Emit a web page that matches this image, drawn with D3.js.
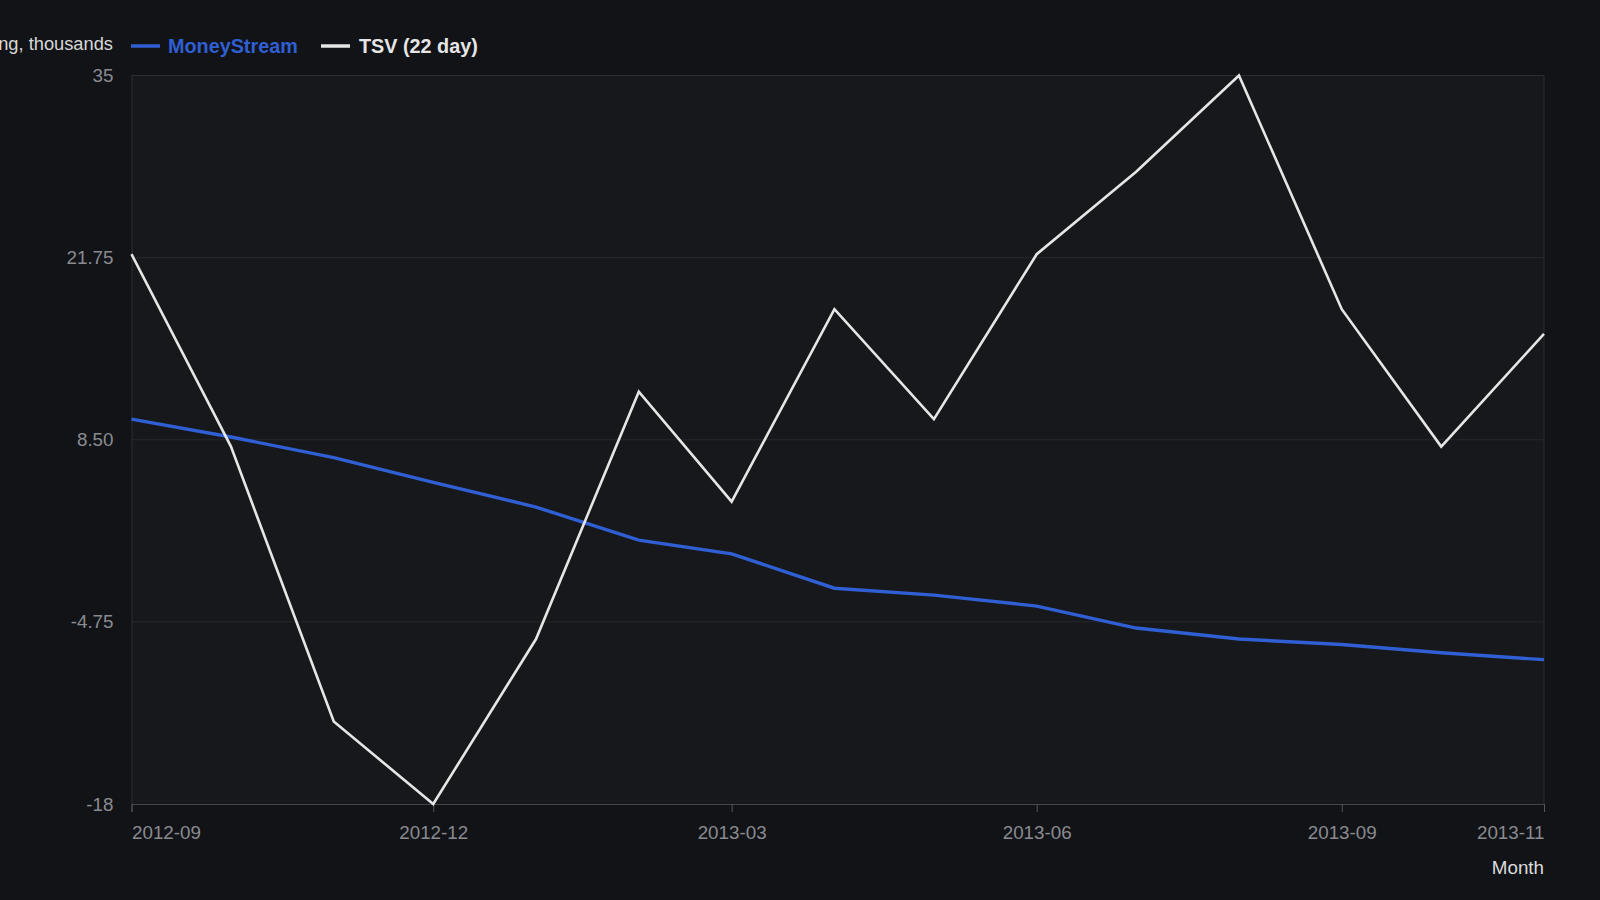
<!DOCTYPE html>
<html><head><meta charset="utf-8">
<script src="https://cdn.jsdelivr.net/npm/d3@7"></script>
<style>
html,body{margin:0;padding:0;background:#121317;}
svg{display:block;font-family:"Liberation Sans",Arial,sans-serif;}
</style></head>
<body><svg id="c" width="1600" height="900"></svg>
<script>
const months = ["2012-09","2012-10","2012-11","2012-12","2013-01","2013-02","2013-03","2013-04","2013-05","2013-06","2013-07","2013-08","2013-09","2013-10","2013-11"];
const moneyStream = [10.0,8.7,7.2,5.4,3.6,1.2,0.2,-2.3,-2.8,-3.6,-5.2,-6.0,-6.4,-7.0,-7.5];
const tsv22 = [22.0,8.0,-12.0,-18.0,-6.0,12.0,4.0,18.0,10.0,22.0,28.0,35.0,18.0,8.0,16.2];
const yTicks = [-18,-4.75,8.5,21.75,35];
const yTickLabels = ["-18","-4.75","8.50","21.75","35"];
const xTickLabels = ["2012-09","2012-12","2013-03","2013-06","2013-09","2013-11"];
const seriesNames = ["MoneyStream","TSV (22 day)"];
const seriesColors = ["#2f5fd3","#e6e6e6"];

const svg = d3.select("#c");
const W=1600,H=900, m={l:131.5,r:56,t:75.5,b:96};
const parse = d3.timeParse("%Y-%m");
const dates = months.map(parse);
const x = d3.scaleTime().domain(d3.extent(dates)).range([m.l,W-m.r]);
const y = d3.scaleLinear().domain([-18,35]).range([H-m.b,m.t]);

// plot background
svg.append("rect").attr("x",m.l).attr("y",m.t).attr("width",W-m.r-m.l).attr("height",H-m.b-m.t).attr("fill","#17181c");

// grid
svg.append("g").selectAll("line").data(yTicks.slice(1,-1)).join("line")
  .attr("x1",m.l).attr("x2",W-m.r).attr("y1",d=>y(d)).attr("y2",d=>y(d))
  .attr("stroke","#26272c").attr("stroke-width",1);
// frame top/right
svg.append("line").attr("x1",m.l).attr("x2",W-m.r).attr("y1",m.t).attr("y2",m.t).attr("stroke","#2c2d33");
svg.append("line").attr("x1",W-m.r).attr("x2",W-m.r).attr("y1",m.t).attr("y2",H-m.b).attr("stroke","#2c2d33");

// y axis
const ya = svg.append("g").attr("transform",`translate(${m.l},0)`)
  .call(d3.axisLeft(y).tickValues(yTicks).tickSize(0).tickPadding(18).tickFormat((d,i)=>yTickLabels[i]));
ya.select(".domain").attr("stroke","#2c2d33");
ya.selectAll("text").attr("fill","#8a8b90").attr("font-size",18.8).attr("font-family","Liberation Sans, Arial, sans-serif");

// x axis
const xa = svg.append("g").attr("transform",`translate(0,${H-m.b})`)
  .call(d3.axisBottom(x).tickValues(xTickLabels.map(parse)).tickSize(8).tickPadding(14).tickFormat(d3.timeFormat("%Y-%m")));
xa.select(".domain").attr("stroke","#44454b");
xa.selectAll(".tick line").attr("stroke","#55565c");
xa.selectAll("text").attr("fill","#8a8b90").attr("font-size",18.8).attr("font-family","Liberation Sans, Arial, sans-serif")
  .attr("text-anchor",(d,i,n)=> i===0?"start":(i===n.length-1?"end":"middle"));

svg.append("text").attr("x",W-m.r).attr("y",874).attr("text-anchor","end")
  .attr("fill","#dcdcdc").attr("font-size",18.8).text("Month");

// lines
const line = d3.line().x((d,i)=>x(dates[i])).y(d=>y(d));
[moneyStream,tsv22].forEach((s,k)=>{
  svg.append("path").datum(s).attr("d",line).attr("fill","none")
    .attr("stroke",seriesColors[k]).attr("stroke-width",k===0?3.4:2.6).attr("stroke-linejoin","miter");
});
// legend
svg.append("text").attr("x",113).attr("y",50).attr("text-anchor","end")
  .attr("fill","#d8d8d8").attr("font-size",18.3).text("Money flow reading, thousands");
const lg = [{x:131,tx:168},{x:321,tx:359}];
seriesNames.forEach((n,k)=>{
  svg.append("line").attr("x1",lg[k].x).attr("x2",lg[k].x+29).attr("y1",46).attr("y2",46)
    .attr("stroke",seriesColors[k]).attr("stroke-width",3.5);
  svg.append("text").attr("x",lg[k].tx).attr("y",52.5).attr("fill",seriesColors[k])
    .attr("font-size",19.8).attr("font-weight","bold").text(n);
});
</script></body></html>
